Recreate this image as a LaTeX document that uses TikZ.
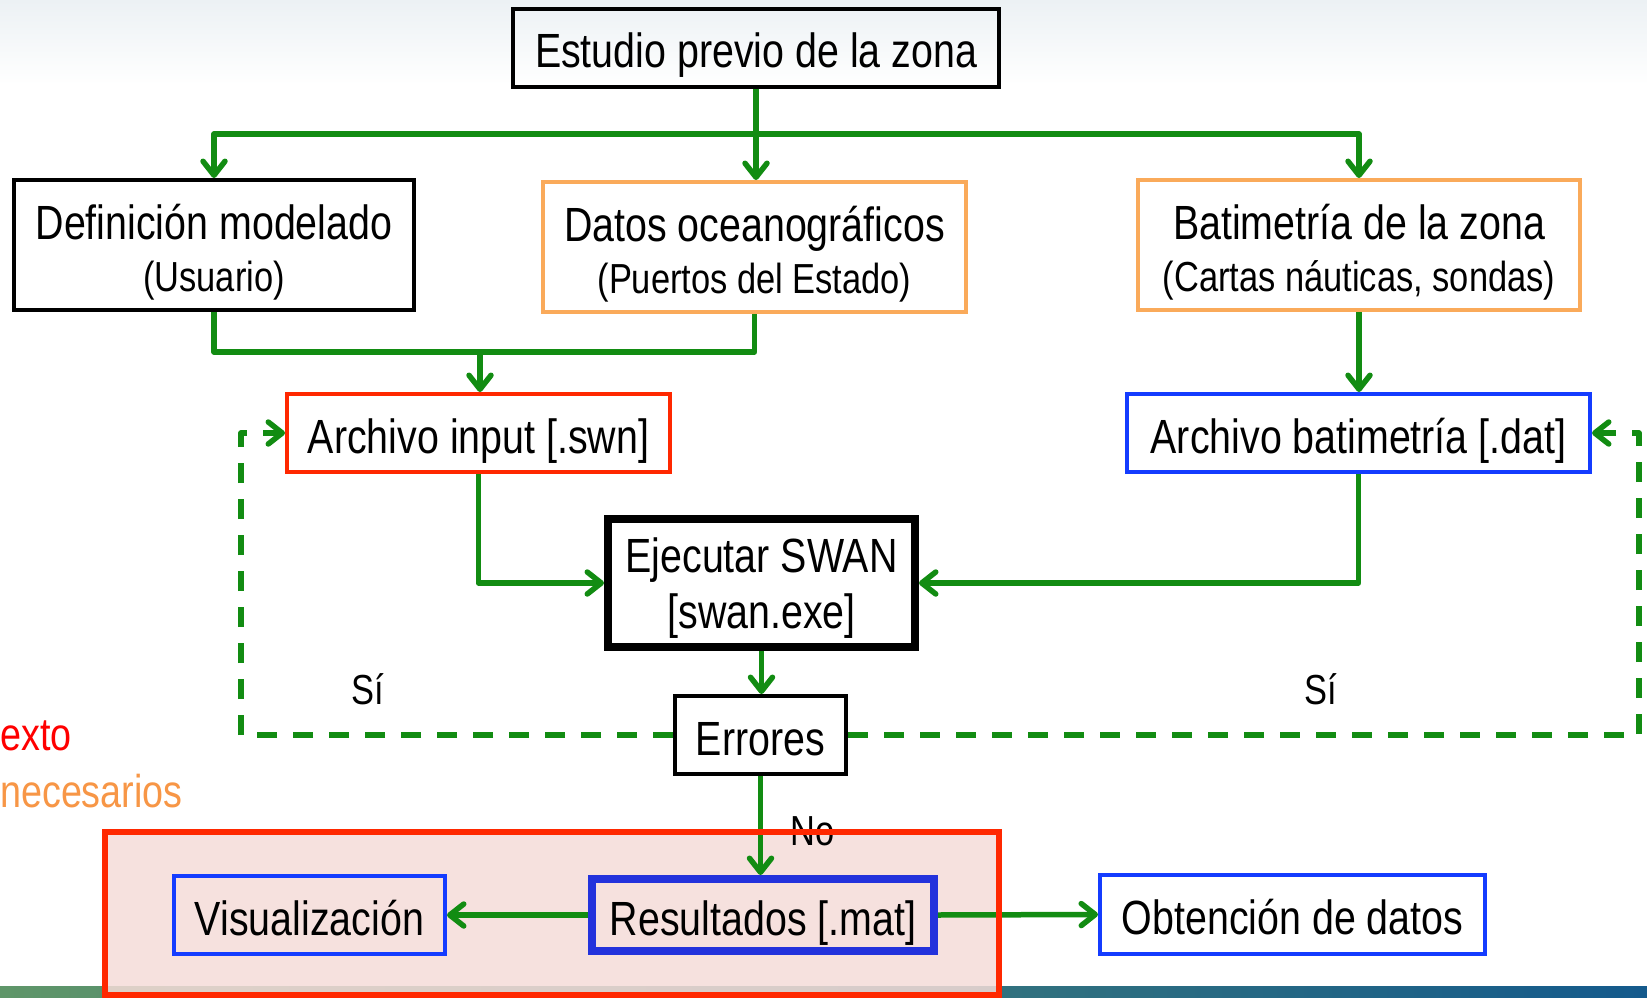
\documentclass[tikz,border=0pt]{standalone}
\usepackage{fontspec}
\setmainfont{Liberation Sans}
\newfontfamily\narrowfont[FakeStretch=0.82]{Liberation Sans}
\usetikzlibrary{arrows.meta,calc}
\definecolor{gline}{RGB}{18,140,18}
\definecolor{orangeb}{RGB}{250,170,90}
\definecolor{redb}{RGB}{255,40,0}
\definecolor{blueb}{RGB}{20,60,255}
\definecolor{blueres}{RGB}{35,50,220}
\definecolor{pinkfill}{RGB}{245,220,216}
\definecolor{topbg}{RGB}{236,241,244}
\definecolor{stripL}{RGB}{95,150,105}
\definecolor{stripR}{RGB}{20,90,140}
\definecolor{txtorange}{RGB}{247,150,70}
\begin{document}
\begin{tikzpicture}[x=1pt,y=-1pt,
  box/.style={draw, line width=4pt, inner sep=0pt, align=center,
    font=\narrowfont\fontsize{48}{50}\selectfont},
  one/.style={text height=50pt, text depth=10pt},
  lbl/.style={font=\narrowfont\fontsize{42}{50}\selectfont, inner sep=0pt},
  side/.style={anchor=base west, inner sep=0pt, font=\narrowfont\fontsize{46}{50}\selectfont},
  gar/.style={draw=gline, line width=5.5pt, line join=round,
    -{Straight Barb[length=14pt,width=22pt,line join=round,line cap=round]}},
  gln/.style={draw=gline, line width=5.5pt, line join=round},
  gdash/.style={gar, dash pattern=on 20pt off 16pt}
]
\useasboundingbox (0,0) rectangle (1647,998);
% background
\shade[top color=topbg, bottom color=white] (0,0) rectangle (1647,85);
\shade[left color=stripL, right color=stripR] (0,986) rectangle (1647,998);
% red region fill
\fill[pinkfill, fill opacity=0.85] (105,832) rectangle (999,995);

% nodes
\node[box, one] (est) at (756,48) [minimum width=486pt, minimum height=78pt] {Estudio previo de la zona};
\node[box] (def) at (214,245) [minimum width=400pt, minimum height=130pt]
  {\rule{0pt}{50pt}Definición modelado\\[2pt]{\fontsize{42}{50}\selectfont (Usuario)}};
\node[box, draw=orangeb] (dat) at (754.5,247) [minimum width=423pt, minimum height=130pt]
  {\rule{0pt}{50pt}Datos oceanográficos\\[2pt]{\fontsize{42}{50}\selectfont (Puertos del Estado)}};
\node[box, draw=orangeb] (bat) at (1359,245) [minimum width=442pt, minimum height=130pt]
  {\rule{0pt}{50pt}Batimetría de la zona\\[2pt]{\fontsize{42}{50}\selectfont (Cartas náuticas, sondas)}};
\node[box, one, draw=redb] (ain) at (478.5,433) [minimum width=383pt, minimum height=78pt] {Archivo input [.swn]};
\node[box, one, draw=blueb] (abat) at (1358.5,433) [minimum width=463pt, minimum height=78pt] {Archivo batimetría [.dat]};
\node[box, line width=8pt] (ej) at (761.5,583) [minimum width=307pt, minimum height=128pt]
  {\rule{0pt}{44pt}Ejecutar SWAN\\[6pt]{}[swan.exe]};
\node[box, one] (err) at (760.5,735) [minimum width=171pt, minimum height=78pt] {Errores};
\node[box, one, draw=blueb] (vis) at (309.5,915) [minimum width=271pt, minimum height=78pt] {Visualización};
\node[box, one, draw=blueres, line width=8pt] (res) at (763,915) [minimum width=342pt, minimum height=72pt] {Resultados [.mat]};
\node[box, one, draw=blueb] (obt) at (1292.5,914.5) [minimum width=385pt, minimum height=79pt] {Obtención de datos};

% coordinates
\coordinate (j1) at (756,134);
\coordinate (j2) at (480,352);
\coordinate (cL) at (241,433);
\coordinate (cR) at (1639,433);

% connectors
\draw[gln] (est.south) -- (j1);
\draw[gar] (j1) -| (def.north);
\draw[gar] (j1) -| (bat.north);
\draw[gar] (j1) -- (j1 |- dat.north);
\draw[gln] (def.south) |- (j2);
\draw[gln] (dat.south) |- (j2);
\draw[gar] (j2) -- (j2 |- ain.north);
\draw[gar] (bat.south) -- (bat.south |- abat.north);
\draw[gar] (ain.south) |- (ej.west);
\draw[gar] (abat.south) |- (ej.east);
\draw[gar] (ej.south) -- (ej.south |- err.north);
\draw[gar] (err.south) -- (err.south |- res.north);
\draw[gdash] (err.west) -| (cL) -- (ain.west);
\draw[gdash] (err.east) -| (cR) -- (abat.east);
\draw[gar] (res.west) -- (vis.east);
\draw[gar] (res.east) -- (obt.west);

% labels
\node[lbl] (si1) at (368,689) {Sí};
\node[lbl] (si2) at (1321,689) {Sí};
\node[lbl] (no) at (813,831) {No};
\node[side, text=red] (t1) at (0,750) {exto};
\node[side, text=txtorange] (t2) at (0,807) {necesarios};

% red region border on top
\draw[redb, line width=6pt] (105,832) rectangle (999,995);
\end{tikzpicture}
\end{document}
